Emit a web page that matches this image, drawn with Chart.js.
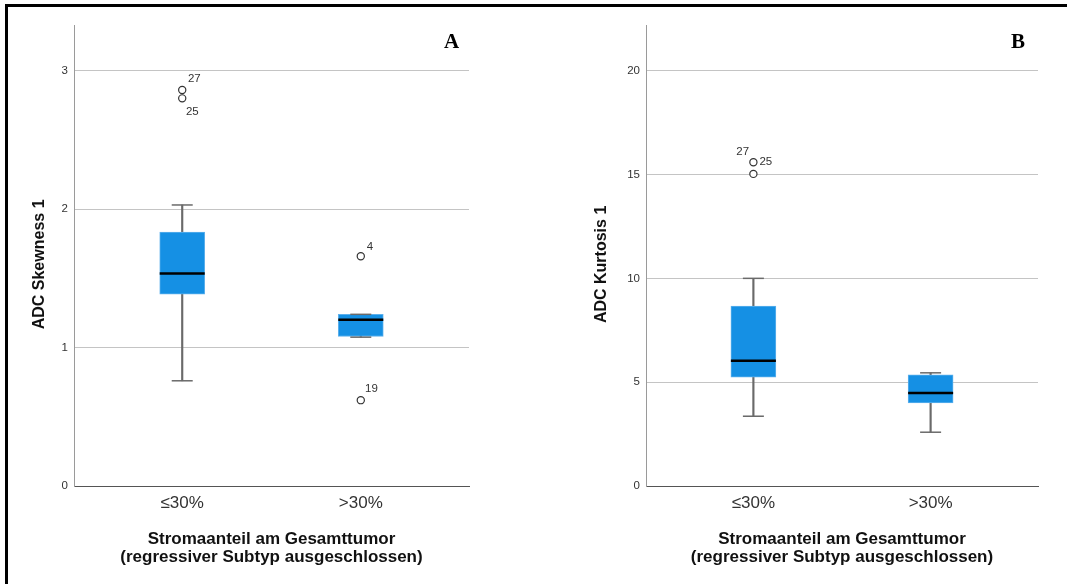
<!DOCTYPE html>
<html>
<head>
<meta charset="utf-8">
<script src="https://cdn.jsdelivr.net/npm/chart.js@4.4.1/dist/chart.umd.min.js"></script>
<style>
  html, body { margin: 0; padding: 0; background: #fff; }
  #wrap { position: relative; width: 1067px; height: 584px; overflow: hidden; }
  #frame { position: absolute; left: 5px; top: 4px; right: -10px; bottom: -10px;
           border-left: 3px solid #000; border-top: 3px solid #000; }
  canvas { position: absolute; top: 0; }
  #chartA { left: 0; }
  #chartB { left: 533px; }
</style>
</head>
<body>
<div id="wrap">
  <div id="frame"></div>
  <canvas id="chartA" width="533" height="584"></canvas>
  <canvas id="chartB" width="534" height="584"></canvas>
</div>
<script>
const categories = ['≤30%', '>30%'];
const xTitle = ['Stromaanteil am Gesamttumor', '(regressiver Subtyp ausgeschlossen)'];

// Panel A: ADC Skewness 1
const skewMin    = [0.76, 1.075];
const skewQ1     = [1.385, 1.08];
const skewMedian = [1.535, 1.20];
const skewQ3     = [1.835, 1.24];
const skewMax    = [2.03, 1.24];
const skewOutlierGroup = [1, 1, 2, 2];
const skewOutlierValue = [2.86, 2.80, 1.66, 0.62];
const skewOutlierCase  = ['27', '25', '4', '19'];
const skewTicks = [0, 1, 2, 3];
const skewAxisMax = 3.33;

// Panel B: ADC Kurtosis 1
const kurtMin    = [3.36, 2.59];
const kurtQ1     = [5.24, 4.0];
const kurtMedian = [6.03, 4.48];
const kurtQ3     = [8.66, 5.35];
const kurtMax    = [10.0, 5.45];
const kurtOutlierGroup = [1, 1];
const kurtOutlierValue = [15.59, 15.03];
const kurtOutlierCase  = ['27', '25'];
const kurtTicks = [0, 5, 10, 15, 20];
const kurtAxisMax = 22.2;

// label placement next to each outlier circle (dx, dy, align)
const skewLabelPos = [[5.7, -11, 'left'], [3.7, 13, 'left'], [6, -9.4, 'left'], [4.3, -11.3, 'left']];
const kurtLabelPos = [[-4.3, -10, 'right'], [6, -11.6, 'left']];

Chart.defaults.font.family = 'Arial, "Liberation Sans", sans-serif';
Chart.defaults.color = '#333';

const boxBlue = '#1590E4';
const whiskerGray = '#6a6a6a';

const outlierLabels = {
  id: 'outlierLabels',
  afterDatasetsDraw(chart, args, opts) {
    const ctx = chart.ctx;
    const meta = chart.getDatasetMeta(opts.datasetIndex);
    ctx.save();
    ctx.font = '11.5px Arial, "Liberation Sans", sans-serif';
    ctx.fillStyle = '#333';
    ctx.textBaseline = 'middle';
    meta.data.forEach((pt, i) => {
      const [dx, dy, align] = opts.pos[i];
      ctx.textAlign = align;
      ctx.fillText(opts.labels[i], pt.x + dx, pt.y + dy);
    });
    ctx.restore();
  }
};

const panelLetter = {
  id: 'panelLetter',
  afterDraw(chart, args, opts) {
    const {ctx, chartArea} = chart;
    ctx.save();
    ctx.font = 'bold 21px "Liberation Serif", "Times New Roman", serif';
    ctx.fillStyle = '#000';
    ctx.textAlign = 'center';
    ctx.textBaseline = 'middle';
    ctx.fillText(opts.text, chartArea.right - opts.dx, chartArea.top + opts.dy);
    ctx.restore();
  }
};

function buildBoxChart(canvasId, cfg) {
  const xs = categories.map((c, i) => i + 1);
  const datasets = [
    {
      type: 'bar', order: 5, grouped: false,
      data: xs.map((x, i) => ({x: x, y: [cfg.min[i], cfg.max[i]]})),
      backgroundColor: whiskerGray, barThickness: 1.5, borderWidth: 0
    },
    {
      type: 'bar', order: 4, grouped: false,
      data: xs.map((x, i) => ({x: x, y: [cfg.q1[i], cfg.q3[i]]})),
      backgroundColor: boxBlue, borderColor: '#5DB0EC', borderWidth: 1,
      borderSkipped: false, barThickness: 45
    },
    {
      type: 'scatter', order: 3,
      data: xs.flatMap((x, i) => [{x: x, y: cfg.min[i]}, {x: x, y: cfg.max[i]}]),
      pointStyle: 'line', pointRadius: 10.5, borderColor: whiskerGray, borderWidth: 1.5
    },
    {
      type: 'scatter', order: 2,
      data: xs.map((x, i) => ({x: x, y: cfg.median[i]})),
      pointStyle: 'line', pointRadius: 22.5, borderColor: '#000', borderWidth: 2.5
    },
    {
      type: 'scatter', order: 1,
      data: cfg.outGroup.map((g, i) => ({x: g, y: cfg.outValue[i]})),
      pointStyle: 'circle', pointRadius: 3.6, borderColor: '#333',
      backgroundColor: '#fff', borderWidth: 1.2
    }
  ];

  return new Chart(document.getElementById(canvasId), {
    type: 'bar',
    data: { datasets: datasets },
    plugins: [outlierLabels, panelLetter],
    options: {
      responsive: false,
      animation: false,
      events: [],
      layout: { padding: { left: 0, right: cfg.padRight, top: 25, bottom: 0 } },
      plugins: {
        legend: { display: false },
        tooltip: { enabled: false },
        outlierLabels: { datasetIndex: 4, labels: cfg.outCase, pos: cfg.labelPos },
        panelLetter: { text: cfg.letter, dx: cfg.letterDx, dy: 17.7 }
      },
      scales: {
        x: {
          type: 'linear',
          offset: false,
          min: 0.394, max: 2.606,
          afterBuildTicks: (s) => { s.ticks = xs.map(v => ({value: v})); },
          afterFit: (s) => { s.height = 98; },
          grid: { display: false, drawTicks: false },
          border: { display: true, color: '#555', width: 1 },
          ticks: {
            padding: 7,
            font: { size: 17 },
            color: '#333',
            callback: (v, i) => categories[i]
          },
          title: {
            display: true,
            text: xTitle,
            color: '#111',
            font: { size: 17, weight: 'bold', lineHeight: '18px' },
            padding: { top: 0, bottom: 17.3 }
          }
        },
        y: {
          min: 0, max: cfg.axisMax,
          afterBuildTicks: (s) => { s.ticks = cfg.ticks.map(v => ({value: v})); },
          afterFit: (s) => { s.width = cfg.yWidth; },
          grid: {
            drawTicks: false,
            color: (c) => c.tick && c.tick.value === 0 ? 'rgba(0,0,0,0)' : '#c4c4c4',
            lineWidth: 1
          },
          border: { display: true, color: '#9a9a9a', width: 1 },
          ticks: { padding: 6, font: { size: 11.5 }, color: '#333' },
          title: {
            display: true,
            text: cfg.yTitle + '    ',
            color: '#111',
            font: { size: 16, weight: 'bold', lineHeight: 1.2 },
            padding: { top: cfg.yTitlePad, bottom: 0 }
          }
        }
      }
    }
  });
}

buildBoxChart('chartA', {
  min: skewMin, q1: skewQ1, median: skewMedian, q3: skewQ3, max: skewMax,
  outGroup: skewOutlierGroup, outValue: skewOutlierValue, outCase: skewOutlierCase,
  labelPos: skewLabelPos, ticks: skewTicks, axisMax: skewAxisMax,
  yTitle: 'ADC Skewness 1', yWidth: 74, yTitlePad: 30.4, padRight: 64,
  letter: 'A', letterDx: 17.3
});

buildBoxChart('chartB', {
  min: kurtMin, q1: kurtQ1, median: kurtMedian, q3: kurtQ3, max: kurtMax,
  outGroup: kurtOutlierGroup, outValue: kurtOutlierValue, outCase: kurtOutlierCase,
  labelPos: kurtLabelPos, ticks: kurtTicks, axisMax: kurtAxisMax,
  yTitle: 'ADC Kurtosis 1', yWidth: 113, yTitlePad: 59.1, padRight: 29,
  letter: 'B', letterDx: 20
});
</script>
</body>
</html>
